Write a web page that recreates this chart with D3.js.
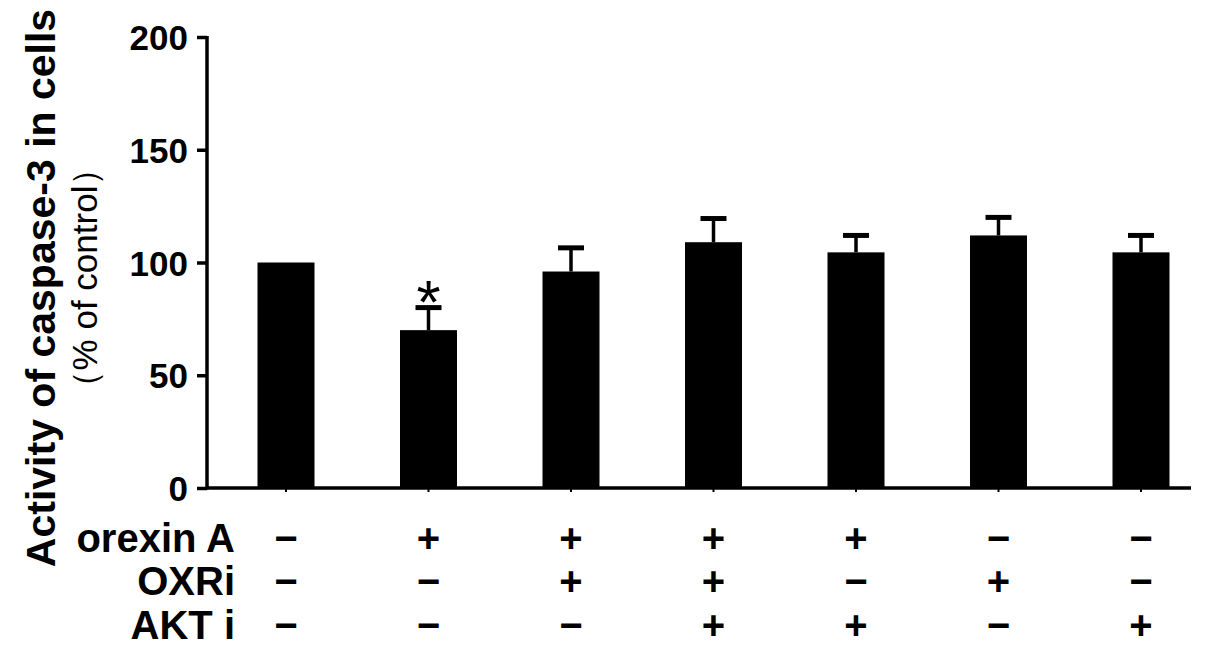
<!DOCTYPE html>
<html><head><meta charset="utf-8">
<script src="https://cdn.jsdelivr.net/npm/d3@7"></script>
<style>body{margin:0;background:#fff}svg{display:block}</style>
</head><body>
<script>
const categories = ["G1","G2","G3","G4","G5","G6","G7"];
const means = [100, 70, 96, 109, 104.5, 112, 104.5];
const errors = [0, 10, 10.5, 10.5, 7.5, 8, 7.5];
const significance = ["", "*", "", "", "", "", ""];
const yTicks = [0, 50, 100, 150, 200];
const rowLabels = ["orexin A", "OXRi", "AKT i"];
const orexinA = ["−","+","+","+","+","−","−"];
const oxri    = ["−","−","+","+","−","+","−"];
const akti    = ["−","−","−","+","+","−","+"];
const yLabel1 = "Activity of caspase-3 in cells";
const yLabel2 = "（% of control）";

const W = 1205, H = 660;
const FONT = "Liberation Sans, Arial, sans-serif";
const svg = d3.select("body").append("svg").attr("width", W).attr("height", H);

const axisX0 = 207, axisX1 = 1191, yBottom = 488, yTop = 37;
const x = d3.scaleBand().domain(categories).range([214.75, 1212.25]).paddingInner(0.6).paddingOuter(0.3);
const y = d3.scaleLinear().domain([0, 200]).range([yBottom, yTop]);

// bars
svg.selectAll("rect.bar").data(categories).join("rect")
  .attr("x", d => x(d)).attr("width", x.bandwidth())
  .attr("y", (d,i) => y(means[i])).attr("height", (d,i) => yBottom - y(means[i]))
  .attr("fill", "#000");

// error bars
const eb = svg.append("g");
categories.forEach((c,i) => {
  if (!errors[i]) return;
  const cx = x(c) + x.bandwidth()/2;
  eb.append("line").attr("x1", cx).attr("x2", cx).attr("y1", y(means[i])).attr("y2", y(means[i]+errors[i]))
    .attr("stroke", "#000").attr("stroke-width", 3.5);
  eb.append("line").attr("x1", cx-13).attr("x2", cx+13).attr("y1", y(means[i]+errors[i])).attr("y2", y(means[i]+errors[i]))
    .attr("stroke", "#000").attr("stroke-width", 5);
  if (significance[i]) {
    eb.append("text").attr("x", cx).attr("y", y(means[i]+errors[i]) + 15)
      .attr("text-anchor", "middle").attr("font-family", FONT)
      .attr("font-size", 62).text(significance[i]);
  }
});

// y axis
const yAxis = d3.axisLeft(y).tickValues(yTicks).tickSize(10).tickPadding(9).tickFormat(d3.format("d"));
const gy = svg.append("g").attr("transform", `translate(${axisX0},0)`).call(yAxis);
gy.select(".domain").attr("stroke", "#000").attr("stroke-width", 3.5).attr("d", `M0,${yTop-1}V${yBottom+1.5}`);
gy.selectAll(".tick line").attr("stroke", "#000").attr("stroke-width", 3.5);
gy.selectAll(".tick text").attr("font-family", FONT)
  .attr("font-size", 35).attr("font-weight", "bold").attr("fill", "#000").attr("dy", "0.36em");

// x axis line
const xAxis = d3.axisBottom(x).tickSize(4).tickFormat("");
const gx = svg.append("g").attr("transform", `translate(0,${yBottom})`).call(xAxis);
gx.select(".domain").attr("stroke", "#000").attr("stroke-width", 3.5).attr("d", `M${axisX0},0H${axisX1}`);
gx.selectAll(".tick line").attr("stroke", "#000").attr("stroke-width", 2);

// y labels
svg.append("text").attr("transform", `translate(55,288) rotate(-90)`)
  .attr("text-anchor", "middle").attr("font-family", FONT)
  .attr("font-size", 41).attr("font-weight", "bold").text(yLabel1);
svg.append("text").attr("transform", `translate(97,278) rotate(-90)`)
  .attr("text-anchor", "middle").attr("font-family", FONT)
  .attr("font-size", 35).text(yLabel2);

// condition table
const rows = [orexinA, oxri, akti];
const rowY = [538, 581, 625];
rows.forEach((r, ri) => {
  svg.append("text").attr("x", 235).attr("y", rowY[ri]).attr("text-anchor", "end")
    .attr("dominant-baseline", "central").attr("font-family", FONT)
    .attr("font-size", 40).attr("font-weight", "bold")
    .text(rowLabels[ri]);
  svg.selectAll(null).data(r).join("text")
    .attr("x", (d,i) => x(categories[i]) + x.bandwidth()/2)
    .attr("y", rowY[ri]).attr("text-anchor", "middle").attr("dominant-baseline", "central")
    .attr("font-family", FONT).attr("font-size", 40).attr("font-weight", "bold")
    .text(d => d);
});
</script>
</body></html>
